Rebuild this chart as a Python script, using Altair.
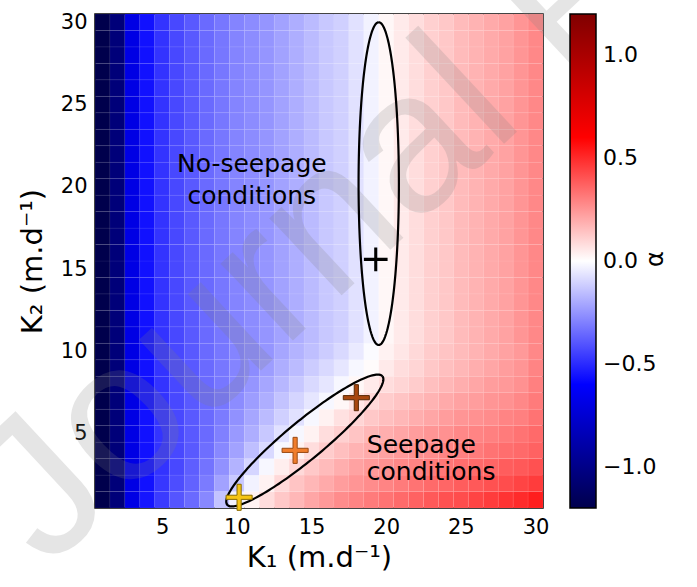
import altair as alt
import numpy as np
import pandas as pd

# ---------------- data ----------------
K1 = list(range(1, 31))
K2 = list(range(1, 31))

# alpha for each K1 column (1..30), one list per K2 row
alpha_k2_01 = [-1.2, -1.05, -0.69, -0.55, -0.46, -0.40, -0.35, -0.28, -0.14, -0.03, 0.03, 0.08, 0.13, 0.17, 0.21, 0.24, 0.27, 0.29, 0.31, 0.33, 0.35, 0.37, 0.39, 0.41, 0.42, 0.44, 0.46, 0.48, 0.50, 0.53]
alpha_k2_02 = [-1.2, -1.05, -0.69, -0.56, -0.47, -0.42, -0.37, -0.31, -0.22, -0.13, -0.03, 0.03, 0.09, 0.14, 0.17, 0.20, 0.23, 0.25, 0.27, 0.29, 0.31, 0.33, 0.35, 0.36, 0.38, 0.39, 0.41, 0.42, 0.44, 0.46]
alpha_k2_03 = [-1.2, -1.05, -0.69, -0.56, -0.48, -0.43, -0.38, -0.33, -0.26, -0.18, -0.10, -0.02, 0.04, 0.09, 0.13, 0.16, 0.19, 0.22, 0.24, 0.26, 0.28, 0.29, 0.31, 0.32, 0.34, 0.35, 0.36, 0.38, 0.39, 0.41]
alpha_k2_04 = [-1.2, -1.05, -0.69, -0.56, -0.48, -0.43, -0.39, -0.34, -0.28, -0.22, -0.15, -0.09, -0.02, 0.03, 0.08, 0.12, 0.15, 0.18, 0.20, 0.22, 0.24, 0.26, 0.27, 0.29, 0.30, 0.31, 0.33, 0.34, 0.35, 0.37]
alpha_k2_05 = [-1.2, -1.05, -0.69, -0.56, -0.48, -0.43, -0.39, -0.35, -0.30, -0.24, -0.19, -0.13, -0.07, -0.02, 0.03, 0.08, 0.11, 0.14, 0.17, 0.19, 0.21, 0.23, 0.25, 0.26, 0.28, 0.29, 0.30, 0.31, 0.33, 0.35]
alpha_k2_06 = [-1.2, -1.05, -0.69, -0.56, -0.48, -0.43, -0.39, -0.35, -0.31, -0.26, -0.21, -0.16, -0.11, -0.07, -0.02, 0.03, 0.07, 0.10, 0.13, 0.15, 0.17, 0.19, 0.21, 0.23, 0.25, 0.26, 0.27, 0.29, 0.30, 0.33]
alpha_k2_07 = [-1.2, -1.05, -0.69, -0.56, -0.48, -0.43, -0.39, -0.35, -0.32, -0.27, -0.23, -0.19, -0.14, -0.10, -0.06, -0.02, 0.02, 0.06, 0.09, 0.12, 0.14, 0.16, 0.18, 0.20, 0.22, 0.23, 0.25, 0.26, 0.28, 0.31]
alpha_k2_08 = [-1.2, -1.05, -0.69, -0.56, -0.48, -0.43, -0.39, -0.35, -0.32, -0.29, -0.25, -0.21, -0.17, -0.13, -0.09, -0.06, -0.02, 0.02, 0.05, 0.08, 0.10, 0.12, 0.15, 0.17, 0.19, 0.21, 0.23, 0.24, 0.26, 0.30]
alpha_k2_09 = [-1.2, -1.05, -0.69, -0.56, -0.48, -0.43, -0.39, -0.35, -0.32, -0.29, -0.27, -0.23, -0.19, -0.16, -0.12, -0.09, -0.06, -0.02, 0.01, 0.05, 0.08, 0.10, 0.13, 0.15, 0.17, 0.19, 0.21, 0.23, 0.25, 0.29]
alpha_k2_10 = [-1.2, -1.05, -0.69, -0.56, -0.48, -0.43, -0.39, -0.35, -0.32, -0.29, -0.27, -0.25, -0.21, -0.18, -0.15, -0.12, -0.09, -0.05, -0.01, 0.03, 0.06, 0.09, 0.12, 0.14, 0.16, 0.18, 0.20, 0.22, 0.24, 0.28]
# rows K2 = 11..30 look identical column by column
alpha_k2_upper = [-1.2, -1.05, -0.69, -0.56, -0.48, -0.43, -0.39, -0.35, -0.32, -0.29, -0.27, -0.25, -0.22, -0.19, -0.16, -0.13, -0.11, -0.07, -0.03, 0.02, 0.05, 0.08, 0.11, 0.13, 0.16, 0.18, 0.20, 0.22, 0.25, 0.28]

alpha_rows = [alpha_k2_01, alpha_k2_02, alpha_k2_03, alpha_k2_04, alpha_k2_05,
              alpha_k2_06, alpha_k2_07, alpha_k2_08, alpha_k2_09, alpha_k2_10] + [alpha_k2_upper] * 20

# colour bar (matplotlib "seismic")
cbar_domain = [-1.2, -0.6, 0.0, 0.6, 1.2]
cbar_colors = ["#00004c", "#0000ff", "#ffffff", "#ff0000", "#800000"]
cbar_ticks = [-1.0, -0.5, 0.0, 0.5, 1.0]
cbar_title = ["α"]
axis_ticks = [5, 10, 15, 20, 25, 30]

# ellipses: centre, semi-axis vector u, semi-axis vector v (data units)
ell_center = [(19.5, 20.2), (14.55, 4.6)]
ell_u = [(0.0, 9.8), (5.2, 3.9)]
ell_v = [(1.35, 0.0), (-0.8, 0.9)]

# crosses
black_cross_k1 = [19.3]
black_cross_k2 = [15.6]
col_cross_k1 = [18.0, 13.9, 10.15]
col_cross_k2 = [7.2, 4.0, 1.15]
col_cross_fill = ["#a8470f", "#f07d2c", "#f5c414"]
col_cross_stroke = ["#5a2a08", "#9a4a14", "#8a6c00"]

# annotation texts
label_text = ["No-seepage", "conditions", "Seepage", "conditions"]
label_k1 = [11.0, 11.0, 18.7, 18.7]
label_k2 = [20.9, 18.95, 3.85, 2.22]
label_align = ["center", "center", "left", "left"]

# ---------------- tables ----------------
rows = []
for j, k2 in enumerate(K2):
    for i, k1 in enumerate(K1):
        rows.append({"K1": k1, "K2": k2, "alpha": alpha_rows[j][i]})
heat_df = pd.DataFrame(rows)

t = np.linspace(0, 2 * np.pi, 181)
ell_rows = []
for e, (c, u, v) in enumerate(zip(ell_center, ell_u, ell_v)):
    for n, tt in enumerate(t):
        ell_rows.append({
            "id": e, "ord": n,
            "K1": c[0] + u[0] * np.cos(tt) + v[0] * np.sin(tt),
            "K2": c[1] + u[1] * np.cos(tt) + v[1] * np.sin(tt),
        })
ell_df = pd.DataFrame(ell_rows)

black_df = pd.DataFrame({"K1": black_cross_k1, "K2": black_cross_k2})
col_df = pd.DataFrame({"K1": col_cross_k1, "K2": col_cross_k2,
                       "fill": col_cross_fill, "stroke": col_cross_stroke})
lab_df = pd.DataFrame({"K1": label_k1, "K2": label_k2, "text": label_text, "align": label_align})
wm_df = pd.DataFrame({"text": ["Journal Pre-proof"]})
ct_df = pd.DataFrame({"text": cbar_title})

FONT = "DejaVu Sans"
xscale = alt.Scale(domain=[0.5, 30.5], nice=False, zero=False)
yscale = alt.Scale(domain=[0.5, 30.5], nice=False, zero=False)

heat = alt.Chart(heat_df).mark_rect(stroke="white", strokeWidth=0.4, strokeOpacity=0.12).transform_calculate(
    x0="datum.K1 - 0.5", x1="datum.K1 + 0.5", y0="datum.K2 - 0.5", y1="datum.K2 + 0.5"
).encode(
    x=alt.X("x0:Q", scale=xscale, axis=alt.Axis(values=axis_ticks, title="K₁ (m.d⁻¹)")),
    x2="x1:Q",
    y=alt.Y("y0:Q", scale=yscale, axis=alt.Axis(values=axis_ticks, title="K₂ (m.d⁻¹)")),
    y2="y1:Q",
    color=alt.Color("alpha:Q",
                    scale=alt.Scale(domain=cbar_domain, range=cbar_colors, interpolate="rgb"),
                    legend=alt.Legend(title=None, values=cbar_ticks, format=".1f",
                                      gradientLength=494, gradientThickness=26,
                                      gradientStrokeColor="black", gradientStrokeWidth=1.5,
                                      labelFontSize=22, labelFont=FONT, labelColor="black",
                                      labelOffset=7, labelOverlap=False,
                                      offset=27, direction="vertical", padding=0)),
)

wm = alt.Chart(wm_df).mark_text(
    font="Liberation Sans", fontSize=200, angle=317, align="left", baseline="alphabetic",
    color="#7f7f7f", opacity=0.2, clip=False
).encode(text="text:N", x=alt.value(-48), y=alt.value(556))

ctitle = alt.Chart(ct_df).mark_text(
    font=FONT, fontSize=24, angle=270, align="center", baseline="middle", color="black", clip=False
).encode(text="text:N", x=alt.value(561), y=alt.value(245))

ell = alt.Chart(ell_df).mark_line(color="black", strokeWidth=2.2, clip=True).encode(
    x=alt.X("K1:Q", scale=xscale), y=alt.Y("K2:Q", scale=yscale), detail="id:N", order="ord:Q"
)

thin_plus = "M-1,-0.13H-0.13V-1H0.13V-0.13H1V0.13H0.13V1H-0.13V0.13H-1Z"
thick_plus = "M-1,-0.16H-0.16V-1H0.16V-0.16H1V0.16H0.16V1H-0.16V0.16H-1Z"

bcross = alt.Chart(black_df).mark_point(shape=thin_plus, size=560, filled=True, color="black", opacity=1).encode(
    x=alt.X("K1:Q", scale=xscale), y=alt.Y("K2:Q", scale=yscale)
)
ccross = alt.Chart(col_df).mark_point(shape=thick_plus, size=680, filled=True, strokeWidth=1, opacity=1).encode(
    x=alt.X("K1:Q", scale=xscale), y=alt.Y("K2:Q", scale=yscale),
    fill=alt.Fill("fill:N", scale=None), stroke=alt.Stroke("stroke:N", scale=None)
)

labels_c = alt.Chart(lab_df).transform_filter("datum.align == 'center'").mark_text(
    font=FONT, fontSize=25, align="center", baseline="alphabetic", color="black"
).encode(x=alt.X("K1:Q", scale=xscale), y=alt.Y("K2:Q", scale=yscale), text="text:N")
labels_l = alt.Chart(lab_df).transform_filter("datum.align == 'left'").mark_text(
    font=FONT, fontSize=25, align="left", baseline="alphabetic", color="black"
).encode(x=alt.X("K1:Q", scale=xscale), y=alt.Y("K2:Q", scale=yscale), text="text:N")

chart = alt.layer(heat, wm, ell, bcross, ccross, labels_c, labels_l, ctitle).properties(
    width=448, height=494,
    padding={"left": 95, "top": 14, "right": 154, "bottom": 79},
    autosize=alt.AutoSizeParams(type="none"),
    background="white",
).configure_view(
    stroke="black", strokeWidth=1.5
).configure_axis(
    domain=False, ticks=False, grid=False,
    labelFont=FONT, labelFontSize=21, labelColor="black", labelPadding=8,
    titleFont=FONT, titleFontSize=29, titleFontWeight="normal", titleColor="black",
).configure_axisX(titlePadding=6).configure_axisY(titlePadding=13)

chart.save("out.html", embed_options={"renderer": "svg", "actions": False})
